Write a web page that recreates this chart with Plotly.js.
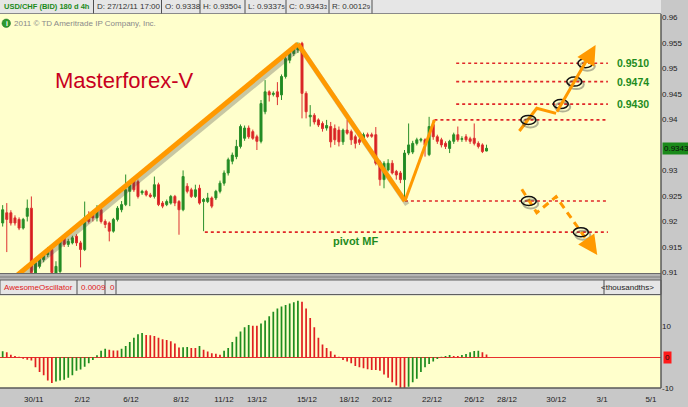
<!DOCTYPE html>
<html><head><meta charset="utf-8">
<script src="https://cdn.plot.ly/plotly-3.0.1.min.js"></script>
<style>html,body{margin:0;padding:0;background:#c8c8c8;}#chart{width:688px;height:407px;}</style>
</head><body><div id="chart"></div>
<script>
// ---- price candles (USD/CHF 4h) ----
const open = [0.9197,0.9217,0.9217,0.9207,0.9204,0.9187,0.9210,0.9226,0.9099,0.9112,
0.9125,0.9135,0.9145,0.9099,0.9102,0.9168,0.9155,0.9158,0.9171,0.9158,
0.9145,0.9213,0.9213,0.9207,0.9223,0.9200,0.9197,0.9181,0.9204,0.9223,
0.9233,0.9259,0.9280,0.9278,0.9256,0.9259,0.9252,0.9249,0.9272,0.9236,
0.9233,0.9236,0.9249,0.9239,0.9223,0.9269,0.9262,0.9249,0.9265,0.9239,
0.9239,0.9246,0.9246,0.9259,0.9275,0.9295,0.9318,0.9327,0.9347,0.9363,
0.9383,0.9376,0.9366,0.9357,0.9415,0.9454,0.9449,0.9454,0.9448,0.9484,
0.9516,0.9529,0.9536,0.9549,0.9451,0.9405,0.9408,0.9399,0.9392,0.9383,
0.9386,0.9382,0.9379,0.9356,0.9379,0.9376,0.9366,0.9360,0.9363,0.9370,
0.9370,0.9370,0.9317,0.9282,0.9301,0.9314,0.9298,0.9295,0.9282,0.9334,
0.9336,0.9353,0.9359,0.9360,0.9331,0.9390,0.9366,0.9360,0.9353,0.9343,
0.9357,0.9370,0.9361,0.9366,0.9362,0.9363,0.9353,0.9350,0.9338];
const high = [0.9232,0.9236,0.9222,0.9212,0.9208,0.9207,0.9243,0.9249,0.9125,0.9132,
0.9140,0.9150,0.9150,0.9122,0.9168,0.9172,0.9166,0.9172,0.9175,0.9162,
0.9239,0.9220,0.9222,0.9232,0.9226,0.9204,0.9200,0.9207,0.9230,0.9240,
0.9292,0.9280,0.9285,0.9282,0.9262,0.9262,0.9256,0.9288,0.9276,0.9240,
0.9243,0.9252,0.9252,0.9242,0.9300,0.9275,0.9266,0.9272,0.9272,0.9246,
0.9256,0.9249,0.9262,0.9280,0.9300,0.9325,0.9335,0.9360,0.9390,0.9388,
0.9388,0.9380,0.9370,0.9438,0.9477,0.9457,0.9455,0.9473,0.9488,0.9523,
0.9536,0.9545,0.9551,0.9552,0.9455,0.9428,0.9412,0.9402,0.9396,0.9399,
0.9395,0.9390,0.9386,0.9382,0.9399,0.9380,0.9370,0.9364,0.9374,0.9374,
0.9374,0.9385,0.9320,0.9318,0.9322,0.9320,0.9301,0.9299,0.9340,0.9392,
0.9358,0.9364,0.9364,0.9363,0.9405,0.9399,0.9370,0.9364,0.9357,0.9360,
0.9374,0.9386,0.9367,0.9371,0.9366,0.9392,0.9357,0.9353,0.93504];
const low = [0.9190,0.9140,0.9192,0.9192,0.9183,0.9184,0.9200,0.9095,0.9095,0.9108,
0.9120,0.9130,0.9095,0.9095,0.9097,0.9150,0.9150,0.9155,0.9152,0.9110,
0.9142,0.9196,0.9200,0.9200,0.9196,0.9187,0.9161,0.9178,0.9200,0.9218,
0.9230,0.9230,0.9258,0.9245,0.9252,0.9249,0.9246,0.9245,0.9230,0.9226,
0.9230,0.9233,0.9230,0.9174,0.9220,0.9255,0.9246,0.9246,0.9233,0.9181,
0.9236,0.9226,0.9242,0.9255,0.9270,0.9290,0.9312,0.9322,0.9343,0.9358,
0.9362,0.9360,0.9340,0.9353,0.9410,0.9435,0.9445,0.9428,0.9438,0.9480,
0.9510,0.9524,0.9530,0.9402,0.9402,0.9386,0.9390,0.9385,0.9376,0.9378,
0.9345,0.9350,0.9347,0.9350,0.9370,0.9350,0.9343,0.9350,0.9358,0.9364,
0.9364,0.9310,0.9270,0.9265,0.9298,0.9292,0.9282,0.9275,0.9243,0.9330,
0.9332,0.9349,0.9355,0.9327,0.9328,0.9360,0.9352,0.9345,0.9342,0.9334,
0.9352,0.9356,0.9356,0.9356,0.9352,0.9349,0.9343,0.9334,0.93375];
const close = [0.9223,0.9204,0.9197,0.9197,0.9187,0.9204,0.9226,0.9100,0.9119,0.9128,
0.9135,0.9145,0.9100,0.9112,0.9164,0.9155,0.9161,0.9168,0.9158,0.9145,
0.9207,0.9200,0.9207,0.9223,0.9200,0.9194,0.9181,0.9204,0.9226,0.9233,
0.9262,0.9272,0.9262,0.9249,0.9259,0.9252,0.9249,0.9272,0.9233,0.9230,
0.9239,0.9249,0.9236,0.9223,0.9288,0.9259,0.9249,0.9262,0.9236,0.9243,
0.9246,0.9230,0.9259,0.9275,0.9295,0.9321,0.9330,0.9347,0.9386,0.9383,
0.9366,0.9363,0.9357,0.9431,0.9454,0.9448,0.9451,0.9444,0.9484,0.9519,
0.9529,0.9539,0.9545,0.9451,0.9415,0.9408,0.9395,0.9389,0.9382,0.9388,
0.9356,0.9360,0.9356,0.9379,0.9373,0.9360,0.9353,0.9355,0.9370,0.9367,
0.9367,0.9314,0.9282,0.9314,0.9314,0.9295,0.9291,0.9282,0.9334,0.9350,
0.9353,0.9360,0.9361,0.9350,0.9386,0.9366,0.9357,0.9350,0.9347,0.9357,
0.9370,0.9360,0.9362,0.9360,0.9357,0.9353,0.9347,0.9337,0.93433];

// ---- Awesome Oscillator (thousandths) ----
const aoValues = [1.9,1.6,0.8,0.4,0.1,-0.5,-0.8,-1.1,-3.3,-4.8,
-5.9,-7.6,-8.4,-7.9,-7.6,-7.3,-6.7,-5.9,-4.4,-4.0,
-3.1,-2.0,-0.9,0.6,2.1,2.7,2.4,2.2,2.15,2.7,
3.6,4.9,6.3,7.4,7.8,7.2,7.1,6.9,6.3,5.8,
5.6,5.2,4.4,3.1,3.25,3.3,3.0,2.95,3.6,2.4,
1.8,1.3,1.1,0.8,2.1,3.0,4.9,6.6,8.3,9.7,
10.4,10.2,10.15,10.9,11.9,13.3,14.7,15.8,16.4,16.9,
17.4,17.8,18.3,18.0,15.8,12.7,9.7,6.3,4.1,3.0,
1.9,0.8,0.1,-0.9,-1.4,-2.0,-2.9,-3.3,-3.6,-3.9,
-4.2,-4.2,-4.4,-5.6,-6.7,-8.1,-9.2,-10.3,-10.3,-9.6,
-8.1,-7.0,-4.8,-3.3,-2.2,-1.4,-0.6,0.1,0.4,0.7,
0.4,0.4,0.7,1.0,1.6,2.0,2.1,1.6,0.9];

// ---- time axis (candle index) ----
const dateTickIdx = [7.6,19.4,31.3,43.5,54,62,74.2,84.5,92.5,104.7,115,123,135,146.2,158.1];
const dateTickText = ['30/11','2/12','6/12','8/12','11/12','13/12','15/12','18/12','20/12','22/12','26/12','28/12','30/12','3/1','5/1'];
const priceTicks = [0.91,0.915,0.92,0.925,0.93,0.94,0.945,0.95,0.955,0.96];
const priceTickText = ['0.91','0.915','0.92','0.925','0.93','0.94','0.945','0.95','0.955','0.96'];
const aoTicks = [-10,10];
const aoTickText = ['-10','10'];

// ---- drawn analysis ----
const zigzagIdx = [3.3, 72.0, 98.1, 105.3];
const zigzagPrice = [0.9093, 0.9548, 0.9240, 0.9399];
const levelPrice = [0.9510, 0.9474, 0.9430, 0.9399, 0.9240, 0.9179];
const levelStartIdx = [110.6, 110.6, 110.6, 105.3, 98.1, 49.3];
const levelEndIdx = [147.6, 147.6, 147.6, 147.6, 147.6, 147.6];
const targetLabels = ['0.9510','0.9474','0.9430'];
const ellipseIdx = [128.2, 136.1, 139.4, 142.1, 128.3, 141.0];
const ellipsePrice = [0.9399, 0.9430, 0.9474, 0.9510, 0.9240, 0.9179];
const upPathIdx = [126.0, 130.25, 134.96, 144.6];
const upPathPrice = [0.93772, 0.94217, 0.94118, 0.95458];
const downPathIdx = [126.6, 130.25, 134.96, 143.25, 145.0];
const downPathPrice = [0.92630, 0.92171, 0.92485, 0.91548, 0.91342];
const pivotLabel = 'pivot MF';
const pivotLabelIdx = 86;
const lastPrice = 0.93433;

// ---- layout helpers (pixel -> paper) ----
const W = 688, H = 407, MR = 27, MT = 14, MB = 19;
const PW = W - MR, PH = H - MT - MB;
const fx = p => p / PW;
const fy = p => (H - MB - p) / PH;
const FONT = 'Liberation Sans, Arial, sans-serif';
const ORANGE = '#ff9900';
const GREEN_TXT = '#1e8c1e';

const idx = open.map((_, i) => i);
const aoIdx = aoValues.map((_, i) => i);
const aoColors = aoValues.map((v, i) => (i === 0 || v > aoValues[i - 1]) ? '#1e8c1e' : '#e02020');

const traces = [];
traces.push({
  type: 'candlestick', x: idx, open: open, high: high, low: low, close: close,
  xaxis: 'x', yaxis: 'y', whiskerwidth: 0, hoverinfo: 'skip', showlegend: false,
  increasing: {line: {color: '#2a8f2a', width: 1}, fillcolor: '#1e8a1e'},
  decreasing: {line: {color: '#dd3030', width: 1}, fillcolor: '#d41c1c'}
});
// dotted levels
levelPrice.forEach((p, k) => {
  traces.push({type: 'scatter', mode: 'lines', x: [levelStartIdx[k], levelEndIdx[k]], y: [p, p],
    xaxis: 'x', yaxis: 'y', line: {color: '#e02828', width: 1.6, dash: 'dot'}, hoverinfo: 'skip', showlegend: false});
});
// zigzag shadows
const SHX = 0.55, SHY = -0.0007;
[[0, 1], [1, 2]].forEach(([a, b]) => {
  traces.push({type: 'scatter', mode: 'lines', x: [zigzagIdx[a] + SHX, zigzagIdx[b] + SHX], y: [zigzagPrice[a] + SHY, zigzagPrice[b] + SHY],
    xaxis: 'x', yaxis: 'y', line: {color: 'rgba(70,70,70,0.3)', width: 5}, hoverinfo: 'skip', showlegend: false});
});
const segWidths = [5, 4.5, 3];
[[0, 1], [1, 2], [2, 3]].forEach(([a, b], k) => {
  traces.push({type: 'scatter', mode: 'lines', x: [zigzagIdx[a], zigzagIdx[b]], y: [zigzagPrice[a], zigzagPrice[b]],
    xaxis: 'x', yaxis: 'y', line: {color: ORANGE, width: segWidths[k]}, hoverinfo: 'skip', showlegend: false});
});
// projection paths
traces.push({type: 'scatter', mode: 'lines', x: upPathIdx.slice(0, 3), y: upPathPrice.slice(0, 3),
  xaxis: 'x', yaxis: 'y', line: {color: ORANGE, width: 3}, hoverinfo: 'skip', showlegend: false});
traces.push({type: 'scatter', mode: 'lines', x: downPathIdx.slice(0, 4), y: downPathPrice.slice(0, 4),
  xaxis: 'x', yaxis: 'y', line: {color: ORANGE, width: 3, dash: '7px,5px'}, hoverinfo: 'skip', showlegend: false});
// oscillator
traces.push({type: 'bar', x: aoIdx, y: aoValues, xaxis: 'x', yaxis: 'y2', width: 0.42,
  marker: {color: aoColors, line: {width: 0}}, hoverinfo: 'skip', showlegend: false});

const shapes = [];
const ann = [];
// top header bar
shapes.push({type: 'rect', xref: 'paper', yref: 'paper', x0: fx(0), x1: fx(661), y0: fy(13.5), y1: fy(0), fillcolor: '#e6e6e6', line: {width: 0}, layer: 'above'});
shapes.push({type: 'line', xref: 'paper', yref: 'paper', x0: fx(0), x1: fx(661), y0: fy(13.5), y1: fy(13.5), line: {color: '#8a8a8a', width: 1}, layer: 'above'});
[93.5, 161.5, 200, 245, 286, 329, 372].forEach(x => shapes.push({type: 'line', xref: 'paper', yref: 'paper', x0: fx(x), x1: fx(x), y0: fy(13.5), y1: fy(0), line: {color: '#505050', width: 1}, layer: 'above'}));
// panel separator + oscillator header
shapes.push({type: 'rect', xref: 'paper', yref: 'paper', x0: fx(0), x1: fx(661), y0: fy(280), y1: fy(273), fillcolor: '#b4b4b4', line: {width: 0}, layer: 'above'});
shapes.push({type: 'line', xref: 'paper', yref: 'paper', x0: fx(0), x1: fx(661), y0: fy(273.5), y1: fy(273.5), line: {color: '#6a6a6a', width: 1}, layer: 'above'});
shapes.push({type: 'line', xref: 'paper', yref: 'paper', x0: fx(0), x1: fx(661), y0: fy(277), y1: fy(277), line: {color: '#7a7a7a', width: 1}, layer: 'above'});
shapes.push({type: 'rect', xref: 'paper', yref: 'paper', x0: fx(0), x1: fx(661), y0: fy(294.5), y1: fy(280), fillcolor: '#e6e6e6', line: {color: '#606060', width: 1}, layer: 'above'});
[77, 105, 116, 604].forEach(x => shapes.push({type: 'line', xref: 'paper', yref: 'paper', x0: fx(x), x1: fx(x), y0: fy(294.5), y1: fy(280), line: {color: '#505050', width: 1}, layer: 'above'}));
// plot borders
shapes.push({type: 'line', xref: 'paper', yref: 'paper', x0: 1, x1: 1, y0: 0, y1: fy(14), line: {color: '#5a5a5a', width: 1.5}, layer: 'above'});
shapes.push({type: 'line', xref: 'paper', yref: 'paper', x0: 0, x1: 1, y0: 0, y1: 0, line: {color: '#5a5a5a', width: 1.5}, layer: 'above'});
// copyright icon
shapes.push({type: 'circle', xref: 'paper', yref: 'paper', x0: fx(2), x1: fx(10.5), y0: fy(27.5), y1: fy(19), fillcolor: '#2e9a2e', line: {color: '#1c6e1c', width: 0.5}, layer: 'above'});
// ellipses with shadows
ellipseIdx.forEach((xi, k) => {
  shapes.push({type: 'circle', xref: 'x', yref: 'y', xsizemode: 'pixel', ysizemode: 'pixel', xanchor: xi, yanchor: ellipsePrice[k],
    x0: -5.5, x1: 9.5, y0: -7.5, y1: 1.5, line: {color: 'rgba(60,60,60,0.4)', width: 2}, layer: 'above'});
  shapes.push({type: 'circle', xref: 'x', yref: 'y', xsizemode: 'pixel', ysizemode: 'pixel', xanchor: xi, yanchor: ellipsePrice[k],
    x0: -7.5, x1: 7.5, y0: -4.5, y1: 4.5, line: {color: '#111', width: 1.5}, layer: 'above'});
});

function txt(x, y, text, opts) {
  return Object.assign({xref: 'paper', yref: 'paper', x: fx(x), y: fy(y), text: text, showarrow: false,
    xanchor: 'left', yanchor: 'middle', font: {family: FONT, size: 8, color: '#333'}}, opts || {});
}
ann.push(txt(1.5, 7, '<b>USD/CHF (BID) 180 d 4h</b>', {font: {family: FONT, size: 7.5, color: '#1a8a1a'}}));
ann.push(txt(95, 7, 'D: 27/12/11 17:00'));
ann.push(txt(163, 7, 'O: 0.9338'));
ann.push(txt(201, 7, 'H: 0.9350<span style="font-size:6px">4</span>'));
ann.push(txt(246, 7, 'L: 0.9337<span style="font-size:6px">5</span>'));
ann.push(txt(287, 7, 'C: 0.9343<span style="font-size:6px">3</span>'));
ann.push(txt(330, 7, 'R: 0.0012<span style="font-size:6px">9</span>'));
ann.push(txt(3.5, 23.5, '<b>i</b>', {font: {family: FONT, size: 7, color: '#fff'}}));
ann.push(txt(12, 23.5, '2011 © TD Ameritrade IP Company, Inc.', {font: {family: FONT, size: 8, color: '#8a8a8a'}}));
ann.push(txt(2, 287.5, 'AwesomeOscillator', {font: {family: FONT, size: 8, color: '#e02020'}}));
ann.push(txt(79, 287.5, '0.0009', {font: {family: FONT, size: 8, color: '#e02020'}}));
ann.push(txt(107.5, 287.5, '0', {font: {family: FONT, size: 8, color: '#e02020'}}));
ann.push(txt(656, 287.5, '<thousandths>', {xanchor: 'right', font: {family: FONT, size: 8, color: '#222'}}));
// title
ann.push(txt(124, 80, 'Masterforex-V', {xanchor: 'center', font: {family: FONT, size: 22, color: '#c8001e'}}));
// level labels
targetLabels.forEach((t, k) => ann.push({xref: 'x', yref: 'y', x: 149.3, y: levelPrice[k], text: '<b>' + t + '</b>', showarrow: false,
  xanchor: 'left', yanchor: 'middle', font: {family: FONT, size: 10.5, color: GREEN_TXT}}));
ann.push({xref: 'x', yref: 'y', x: pivotLabelIdx, y: levelPrice[5], yshift: -9, text: '<b>' + pivotLabel + '</b>', showarrow: false,
  xanchor: 'center', yanchor: 'middle', font: {family: FONT, size: 11, color: GREEN_TXT}});
// arrowheads
ann.push({xref: 'x', yref: 'y', axref: 'x', ayref: 'y', x: upPathIdx[3], y: upPathPrice[3], ax: upPathIdx[2], ay: upPathPrice[2],
  text: '', showarrow: true, arrowhead: 2, arrowsize: 1.3, arrowwidth: 3, arrowcolor: ORANGE});
ann.push({xref: 'x', yref: 'y', axref: 'x', ayref: 'y', x: downPathIdx[4], y: downPathPrice[4], ax: downPathIdx[3], ay: downPathPrice[3],
  text: '', showarrow: true, arrowhead: 2, arrowsize: 1.3, arrowwidth: 3, arrowcolor: ORANGE});
// last price & zero markers on the axes
ann.push({xref: 'paper', yref: 'y', x: 1, y: lastPrice, xanchor: 'left', yanchor: 'middle', xshift: 1, text: lastPrice.toFixed(4),
  showarrow: false, bgcolor: '#1a8a1a', borderpad: 1, font: {family: FONT, size: 8, color: '#0a0a0a'}});
ann.push({xref: 'paper', yref: 'y2', x: 1, y: 0, xanchor: 'left', yanchor: 'middle', xshift: 2, text: '0',
  showarrow: false, bgcolor: '#ff1a1a', borderpad: 1, font: {family: FONT, size: 8, color: '#111'}});

const layout = {
  width: W, height: H,
  margin: {l: 0, r: MR, t: MT, b: MB, pad: 0},
  paper_bgcolor: '#c8c8c8', plot_bgcolor: '#ffffcc',
  showlegend: false, hovermode: false, dragmode: false,
  font: {family: FONT, size: 8, color: '#222'},
  xaxis: {domain: [0, 1], anchor: 'y2', range: [-0.65, 160.55], tickvals: dateTickIdx, ticktext: dateTickText,
    showgrid: false, zeroline: false, showline: false, ticks: 'outside', ticklen: 3, tickcolor: 'rgba(0,0,0,0)',
    tickfont: {family: FONT, size: 8, color: '#222'}, rangeslider: {visible: false}, fixedrange: true},
  yaxis: {domain: [fy(273), 1], anchor: 'x', side: 'right', range: [0.9099, 0.96065], tickvals: priceTicks, ticktext: priceTickText,
    showgrid: false, zeroline: false, showline: false, ticks: '', tickfont: {family: FONT, size: 8, color: '#222'}, fixedrange: true},
  yaxis2: {domain: [0, fy(295.5)], anchor: 'x', side: 'right', range: [-10, 20], tickvals: aoTicks, ticktext: aoTickText,
    showgrid: false, zeroline: true, zerolinecolor: '#e83030', zerolinewidth: 1, showline: false, ticks: '',
    tickfont: {family: FONT, size: 8, color: '#222'}, fixedrange: true},
  bargap: 0.6,
  shapes: shapes, annotations: ann
};
Plotly.newPlot('chart', traces, layout, {staticPlot: true, displayModeBar: false});
</script></body></html>
